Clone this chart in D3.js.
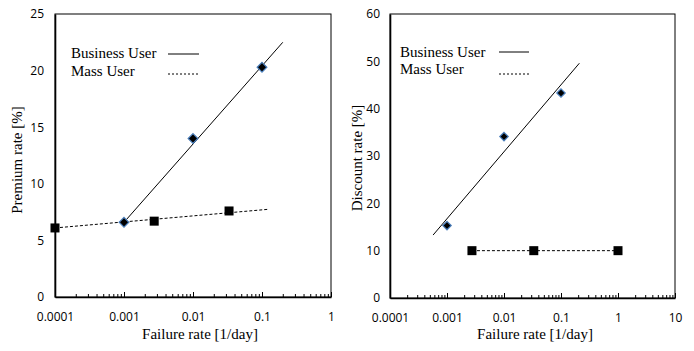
<!DOCTYPE html>
<html>
<head>
<meta charset="utf-8">
<script src="https://cdn.jsdelivr.net/npm/d3@7"></script>
<style>
  body { margin: 0; background: #fff; }
  svg { display: block; }
</style>
</head>
<body>
<svg id="chart"></svg>
<script>
// premium chart (left)
const premiumBusinessX = [0.001, 0.01, 0.1];
const premiumBusinessY = [6.6, 14.0, 20.3];
const premiumBusinessTrendX = [0.001, 0.2];
const premiumBusinessTrendY = [6.6, 22.5];
const premiumMassX = [0.0001, 0.00274, 0.0333];
const premiumMassY = [6.1, 6.7, 7.6];
const premiumMassTrendX = [0.0001, 0.125];
const premiumMassTrendY = [6.1, 7.75];
const premiumYTicks = [0, 5, 10, 15, 20, 25];
const premiumXTicks = ["0.0001", "0.001", "0.01", "0.1", "1"];

// discount chart (right)
const discountBusinessX = [0.001, 0.01, 0.1];
const discountBusinessY = [15.3, 34.1, 43.3];
const discountBusinessTrendX = [0.00057, 0.21];
const discountBusinessTrendY = [13.3, 49.6];
const discountMassX = [0.00274, 0.0333, 1];
const discountMassY = [10, 10, 10];
const discountYTicks = [0, 10, 20, 30, 40, 50, 60];
const discountXTicks = ["0.0001", "0.001", "0.01", "0.1", "1", "10"];

const legendNames = ["Business User", "Mass User"];

const svg = d3.select("#chart")
    .attr("width", 694)
    .attr("height", 351);

svg.append("rect").attr("width", 694).attr("height", 351).attr("fill", "#fff");

function drawPanel(opt) {
    const xTicks = opt.xTicks.map(Number);
    const x = d3.scaleLog()
        .domain([xTicks[0], xTicks[xTicks.length - 1]])
        .range([opt.left, opt.right]);
    const y = d3.scaleLinear()
        .domain([opt.yTicks[0], opt.yTicks[opt.yTicks.length - 1]])
        .range([opt.bottom, opt.top]);

    const g = svg.append("g");

    // frame
    g.append("rect")
        .attr("x", opt.left).attr("y", opt.top)
        .attr("width", opt.right - opt.left).attr("height", opt.bottom - opt.top)
        .attr("fill", "none").attr("stroke", "#000").attr("stroke-width", 1);

    // minor ticks
    const minors = [];
    for (let i = 0; i < xTicks.length - 1; i++) {
        for (let k = 2; k <= 9; k++) minors.push(xTicks[i] * k);
    }
    g.append("g")
        .attr("transform", `translate(0,${opt.bottom})`)
        .call(d3.axisBottom(x).tickValues(minors).tickSize(-3).tickSizeOuter(0).tickFormat(""))
        .call(a => a.select(".domain").remove())
        .call(a => a.selectAll("line").attr("stroke", "#000"));

    // major ticks + labels
    const xAxis = g.append("g")
        .attr("transform", `translate(0,${opt.bottom})`)
        .call(d3.axisBottom(x).tickValues(xTicks).tickSize(-5).tickSizeOuter(0)
            .tickPadding(15).tickFormat((d, i) => opt.xTicks[i]));
    xAxis.select(".domain").attr("stroke", "#000").attr("stroke-width", 1.6);
    xAxis.selectAll("line").attr("stroke", "#000");
    xAxis.selectAll("text")
        .attr("font-family", "'Open Sans', sans-serif")
        .attr("font-size", 12)
        .attr("fill", "#000");

    const yAxis = g.append("g")
        .attr("transform", `translate(${opt.left},0)`)
        .call(d3.axisLeft(y).tickValues(opt.yTicks).tickSize(0).tickPadding(opt.yPad));
    yAxis.select(".domain").attr("stroke", "#000").attr("stroke-width", 1.6);
    yAxis.selectAll("text")
        .attr("font-family", "'Open Sans', sans-serif")
        .attr("font-size", 12)
        .attr("fill", "#000");

    // axis titles
    g.append("text")
        .attr("x", opt.xTitleX).attr("y", 339)
        .attr("text-anchor", "middle")
        .attr("font-family", "'Liberation Serif', serif")
        .attr("font-size", 15)
        .text("Failure rate [1/day]");
    g.append("text")
        .attr("transform", `translate(${opt.yTitleX},${opt.yTitleY}) rotate(-90)`)
        .attr("text-anchor", "middle")
        .attr("font-family", "'Liberation Serif', serif")
        .attr("font-size", 15)
        .text(opt.yTitle);

    const line = d3.line().x(d => x(d[0])).y(d => y(d[1]));

    // trend lines
    g.append("path")
        .datum(d3.zip(opt.massTrendX, opt.massTrendY))
        .attr("d", line)
        .attr("fill", "none").attr("stroke", "#000").attr("stroke-width", 1)
        .attr("stroke-dasharray", "3,2");
    g.append("path")
        .datum(d3.zip(opt.busTrendX, opt.busTrendY))
        .attr("d", line)
        .attr("fill", "none").attr("stroke", "#000").attr("stroke-width", 1);

    // markers
    const sq = opt.sq;
    g.selectAll(".mass")
        .data(d3.zip(opt.massX, opt.massY))
        .join("rect")
        .attr("x", d => x(d[0]) - sq / 2)
        .attr("y", d => y(d[1]) - sq / 2)
        .attr("width", sq).attr("height", sq)
        .attr("fill", "#000");

    const diamond = d3.symbol().type(d3.symbolDiamond2).size(opt.dia);
    g.selectAll(".bus")
        .data(d3.zip(opt.busX, opt.busY))
        .join("path")
        .attr("d", diamond)
        .attr("transform", d => `translate(${x(d[0])},${y(d[1])})`)
        .attr("fill", "#000")
        .attr("stroke", "#4a7ebb")
        .attr("stroke-width", 1.2);

    // legend
    const lg = g.append("g")
        .attr("font-family", "'Liberation Serif', serif")
        .attr("font-size", 15);
    legendNames.forEach((name, i) => {
        lg.append("text")
            .attr("x", opt.legX).attr("y", opt.legY[i])
            .text(name);
        lg.append("line")
            .attr("x1", opt.legLine[0]).attr("x2", opt.legLine[1])
            .attr("y1", opt.legLineY[i]).attr("y2", opt.legLineY[i])
            .attr("stroke", "#000").attr("stroke-width", 1)
            .attr("stroke-dasharray", i === 1 ? "2,2" : null);
    });
}

drawPanel({
    left: 55, right: 331, top: 14, bottom: 297,
    xTicks: premiumXTicks, yTicks: premiumYTicks, yPad: 11,
    yTitle: "Premium rate [%]", yTitleX: 22, yTitleY: 160, xTitleX: 200,
    busX: premiumBusinessX, busY: premiumBusinessY,
    busTrendX: premiumBusinessTrendX, busTrendY: premiumBusinessTrendY,
    massX: premiumMassX, massY: premiumMassY,
    massTrendX: premiumMassTrendX, massTrendY: premiumMassTrendY,
    sq: 9, dia: 60,
    legX: 71, legY: [58, 76], legLine: [168, 199], legLineY: [54, 74]
});

drawPanel({
    left: 390, right: 675, top: 14, bottom: 298,
    xTicks: discountXTicks, yTicks: discountYTicks, yPad: 10,
    yTitle: "Discount rate [%]", yTitleX: 362, yTitleY: 158, xTitleX: 535,
    busX: discountBusinessX, busY: discountBusinessY,
    busTrendX: discountBusinessTrendX, busTrendY: discountBusinessTrendY,
    massX: discountMassX, massY: discountMassY,
    massTrendX: [discountMassX[0], discountMassX[2]], massTrendY: [discountMassY[0], discountMassY[2]],
    sq: 9, dia: 45,
    legX: 400, legY: [57, 74], legLine: [499, 529], legLineY: [52, 74]
});
</script>
</body>
</html>
